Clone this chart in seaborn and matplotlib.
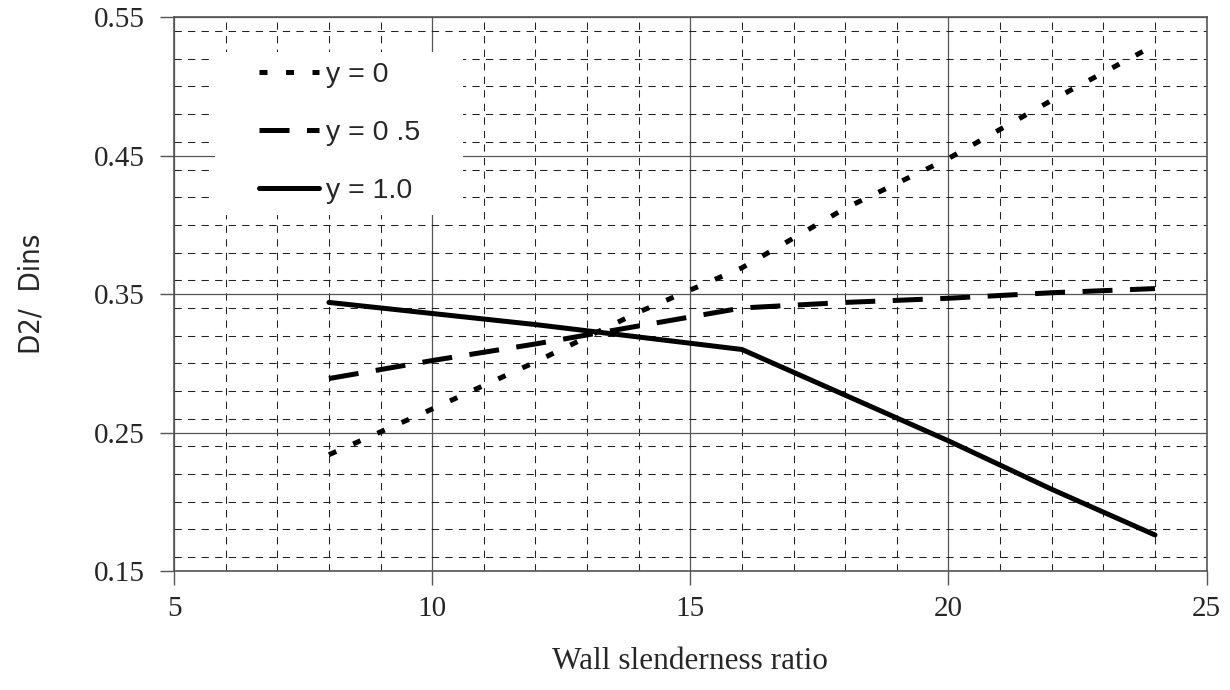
import numpy as np
import pandas as pd
import seaborn as sns
import matplotlib
matplotlib.use("Agg")
import matplotlib.pyplot as plt
from matplotlib.ticker import MultipleLocator, FormatStrFormatter
from matplotlib.patches import Rectangle
from matplotlib import font_manager

# ---- data ----
slenderness = [8, 10, 12, 14, 16, 18, 20, 22, 24]
y_0 = [0.234, 0.267, 0.301, 0.337, 0.369, 0.412, 0.448, 0.490, 0.530]
y_05 = [0.289, 0.302, 0.314, 0.327, 0.340, 0.344, 0.347, 0.351, 0.354]
y_10 = [0.344, 0.336, 0.328, 0.319, 0.310, 0.277, 0.244, 0.209, 0.176]
series_labels = ["y = 0", "y = 0 .5", "y = 1.0"]
x_ticks = [5, 10, 15, 20, 25]
y_ticks = [0.15, 0.25, 0.35, 0.45, 0.55]

sns.set_theme(style="white")
plt.rcParams['font.family'] = ['Liberation Serif', 'DejaVu Serif']

# condensed sans for the y label, if available
ylab_prop = None
for f in font_manager.fontManager.ttflist:
    if f.name == 'Liberation Sans Narrow' and f.weight in (400, 'normal') and f.style == 'normal':
        ylab_prop = font_manager.FontProperties(fname=f.fname, size=22)
        break
if ylab_prop is None:
    for f in font_manager.fontManager.ttflist:
        if 'DejaVuSansCondensed.ttf' in f.fname:
            ylab_prop = font_manager.FontProperties(fname=f.fname, size=21)
            break
if ylab_prop is None:
    ylab_prop = font_manager.FontProperties(family='Liberation Sans', size=19)

fig = plt.figure(figsize=(12.3, 6.9), dpi=100)
ax = fig.add_axes([0.1415, 0.1725, 0.8395, 0.8025])

styles = [(0, (1.6, 3.7)), (0, (6.0, 3.5)), '-']
for vals, lab, ls in zip([y_0, y_05, y_10], series_labels, styles):
    df = pd.DataFrame({"x": slenderness, "y": vals})
    sns.lineplot(data=df, x="x", y="y", ax=ax, color="black", lw=3.6,
                 linestyle=ls, label=lab, zorder=5)

ax.set_xlim(5, 25)
ax.set_ylim(0.15, 0.55)
ax.set_xticks(x_ticks)
ax.set_yticks(y_ticks)
ax.xaxis.set_minor_locator(MultipleLocator(1))
ax.yaxis.set_minor_locator(MultipleLocator(0.02))
ax.yaxis.set_major_formatter(FormatStrFormatter('%.2f'))

ax.grid(which='major', color='#555555', lw=0.9, linestyle='-')
ax.grid(which='minor', color='#222222', lw=0.75, linestyle=(0, (7, 6)))
ax.set_axisbelow(True)

for s in ax.spines.values():
    s.set_color('#555555')
    s.set_linewidth(1.2)

ax.tick_params(which='major', direction='out', length=10, width=1, color='#555555',
               labelsize=21, left=True, bottom=True)
ax.tick_params(axis='y', which='major', pad=11)
ax.tick_params(axis='x', which='major', pad=8)
ax.tick_params(which='minor', length=0)
for t in ax.get_xticklabels() + ax.get_yticklabels():
    t.set_family(['Liberation Serif'])

ax.set_xlabel("Wall slenderness ratio", fontsize=22.5, family=['Liberation Serif'], va='center')
ax.xaxis.set_label_coords(0.5, -0.163)
ax.set_ylabel("D2/  Dins", fontproperties=ylab_prop, va='center')
ax.yaxis.set_label_coords(-0.138, 0.5)

# white legend area (as in the reference, no border)
ax.add_patch(Rectangle((0.0397, 0.6426), 0.2401, 0.2942, transform=ax.transAxes,
                       facecolor='white', edgecolor='none', zorder=2))

leg = ax.legend(loc='center left', bbox_to_anchor=(0.0823, 0.7906), frameon=False,
                handlelength=2.1, handletextpad=0.25, labelspacing=1.12,
                borderpad=0, borderaxespad=0,
                prop={'family': 'Liberation Sans', 'size': 20.5})
leg.set_zorder(6)

fig.savefig("out.png", dpi=100)
